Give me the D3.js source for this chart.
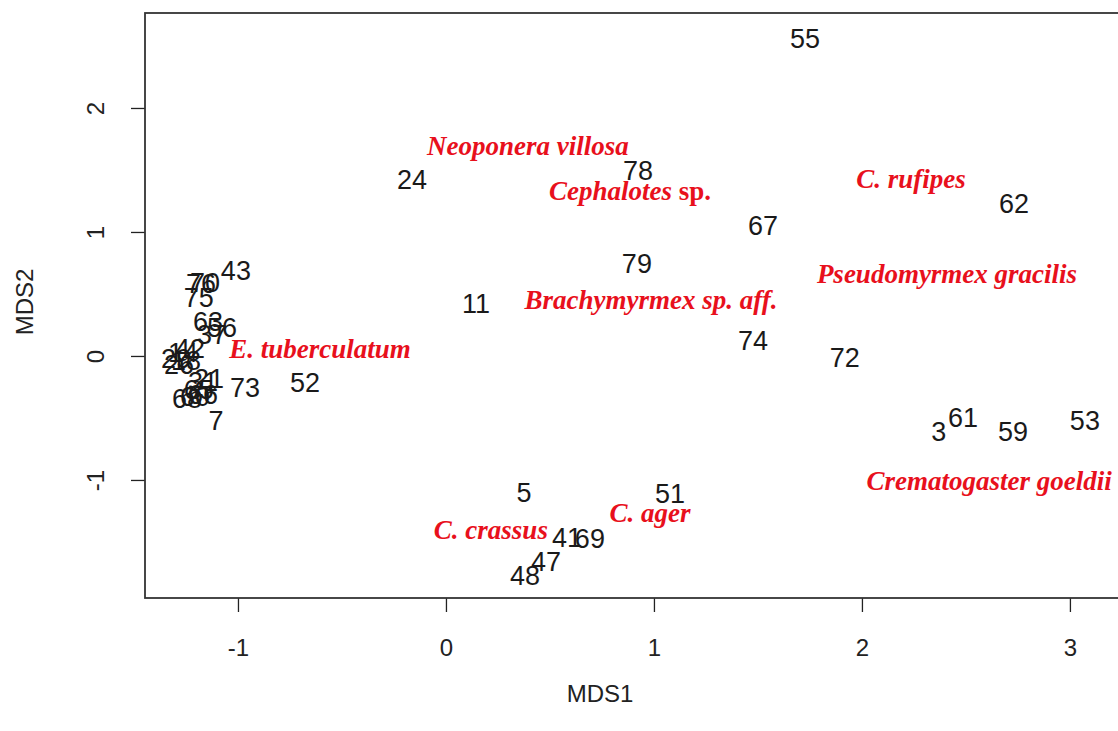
<!DOCTYPE html>
<html>
<head>
<meta charset="utf-8">
<script src="https://cdn.jsdelivr.net/npm/d3@7"></script>
<style>
  body { margin: 0; background: #fff; }
  svg { display: block; }
  .axis text { font-family: "Liberation Sans", Arial, sans-serif; font-size: 24px; fill: #222; }
  .axis line { stroke: #222; stroke-width: 1.3; }
  .site { font-family: "Liberation Sans", Arial, sans-serif; font-size: 27px; fill: #1a1a1a; }
  .species { font-family: "Liberation Serif", "Times New Roman", serif; font-size: 27px;
             font-weight: bold; font-style: italic; fill: #e8101c; }
</style>
</head>
<body>
<div id="chart"></div>
<script>
// site labels and their MDS scores
var sites = ['55', '24', '78', '67', '62', '79', '11', '74', '72',
  '43', '76', '70', '75', '63', '56', '37',
  '26', '14', '42', '18', '29',
  '31', '21', '68', '60', '66', '65', '73', '52', '7',
  '3', '61', '59', '53',
  '5', '51', '41', '69', '47', '48'];
var mds1 = [1.726, -0.163, 0.923, 1.524, 2.731, 0.918, 0.144, 1.476, 1.918,
  -1.010, -1.178, -1.159, -1.188, -1.144, -1.077, -1.125,
  -1.284, -1.264, -1.231, -1.250, -1.298,
  -1.168, -1.139, -1.245, -1.207, -1.168, -1.188, -0.966, -0.678, -1.106,
  2.370, 2.486, 2.726, 3.072,
  0.375, 1.077, 0.582, 0.692, 0.481, 0.380];
var mds2 = [2.565, 1.427, 1.500, 1.056, 1.234, 0.750, 0.427, 0.129, -0.008,
  0.694, 0.589, 0.597, 0.476, 0.282, 0.234, 0.177,
  -0.065, 0.032, 0.065, -0.032, -0.016,
  -0.202, -0.177, -0.339, -0.323, -0.306, -0.266, -0.250, -0.210, -0.516,
  -0.605, -0.492, -0.605, -0.516,
  -1.097, -1.105, -1.460, -1.468, -1.653, -1.766];

// ant species placed on the ordination
var species = ['Neoponera villosa', 'Cephalotes|sp.', 'C. rufipes', 'Pseudomyrmex gracilis',
  'Brachymyrmex sp. aff.', 'E. tuberculatum', 'Crematogaster goeldii', 'C. crassus', 'C. ager'];
var speciesX = [0.394, 0.885, 2.236, 2.409, 0.986, -0.606, 2.611, 0.216, 0.981];
var speciesY = [1.694, 1.331, 1.427, 0.661, 0.452, 0.056, -1.008, -1.403, -1.266];

var xTicks = [-1, 0, 1, 2, 3];
var yTicks = [-1, 0, 1, 2];

var size = { width: 1118, height: 731 };
var box = { left: 145, top: 13, right: 1124, bottom: 598 };

var x = d3.scaleLinear()
  .domain([-1.447, 3.26])
  .range([box.left, box.right]);
var y = d3.scaleLinear()
  .domain([-1.952, 2.766])
  .range([box.bottom, box.top]);

var svg = d3.select('#chart').append('svg')
  .attr('width', size.width)
  .attr('height', size.height);

// x axis
var xAxis = svg.append('g')
  .attr('class', 'axis x')
  .attr('transform', `translate(0, ${box.bottom})`)
  .call(d3.axisBottom(x).tickValues(xTicks).tickSize(14).tickPadding(27).tickFormat(d3.format('d')));
xAxis.select('.domain').remove();

// y axis, labels turned like R does
var yAxis = svg.append('g')
  .attr('class', 'axis y')
  .attr('transform', `translate(${box.left}, 0)`)
  .call(d3.axisLeft(y).tickValues(yTicks).tickSize(14).tickFormat(d3.format('d')));
yAxis.select('.domain').remove();
yAxis.selectAll('.tick text')
  .attr('x', null).attr('dy', null)
  .attr('text-anchor', 'middle')
  .attr('transform', 'translate(-50, 0) rotate(-90)')
  .attr('dominant-baseline', 'central');

// use a plain hyphen for negatives
svg.selectAll('.axis .tick text').text(d => String(d).replace('\u2212', '-'));

svg.append('rect')
  .attr('x', box.left).attr('y', box.top)
  .attr('width', box.right - box.left).attr('height', box.bottom - box.top)
  .attr('fill', 'none').attr('stroke', '#333').attr('stroke-width', 1.8);

svg.append('text')
  .attr('class', 'axis-title')
  .attr('x', 600).attr('y', 702)
  .attr('text-anchor', 'middle')
  .style('font', '24px "Liberation Sans", Arial, sans-serif').style('fill', '#222')
  .text('MDS1');

svg.append('text')
  .attr('transform', 'translate(33, 302) rotate(-90)')
  .attr('text-anchor', 'middle')
  .style('font', '24px "Liberation Sans", Arial, sans-serif').style('fill', '#222')
  .text('MDS2');

// site numbers
svg.append('g').selectAll('text')
  .data(sites)
  .enter().append('text')
  .attr('class', 'site')
  .attr('x', (d, i) => x(mds1[i]))
  .attr('y', (d, i) => y(mds2[i]))
  .attr('text-anchor', 'middle')
  .attr('dy', '0.36em')
  .text(d => d);

// species names
var sp = svg.append('g').selectAll('text')
  .data(species)
  .enter().append('text')
  .attr('class', 'species')
  .attr('x', (d, i) => x(speciesX[i]))
  .attr('y', (d, i) => y(speciesY[i]))
  .attr('text-anchor', 'middle')
  .attr('dy', '0.33em');

sp.each(function(d) {
  var parts = d.split('|');
  var t = d3.select(this);
  t.append('tspan').text(parts[0]);
  if (parts[1]) t.append('tspan').style('font-style', 'normal').text(' ' + parts[1]);
});
</script>
</body>
</html>
